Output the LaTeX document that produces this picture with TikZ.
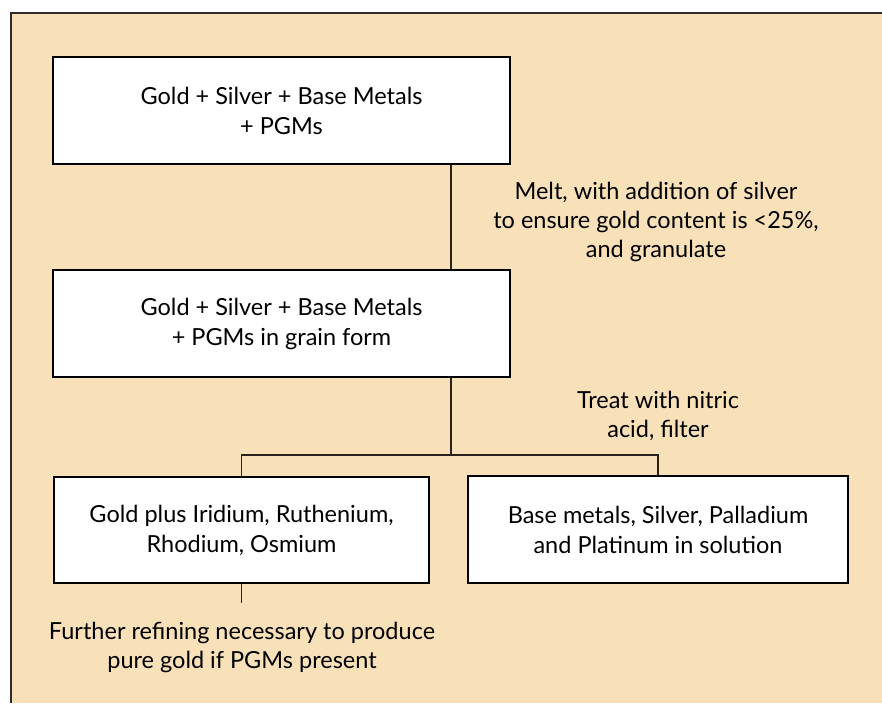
\documentclass[tikz,border=0pt]{standalone}
\usepackage{fontspec}
\setmainfont{Lato}
\begin{document}
\begin{tikzpicture}[x=1pt,y=-1pt,
  panel/.style={fill=beige},
  stage/.style={draw=black, fill=white, line width=2.4pt, rectangle, inner sep=0pt,
                align=center, font=\fontsize{23.5}{30}\selectfont},
  wire/.style={draw=linegray, line width=1.1pt},
  txt/.style={align=center, inner sep=0pt, font=\fontsize{23.5}{29}\selectfont, text=black}]
  \definecolor{beige}{RGB}{248,225,184}
  \definecolor{linegray}{RGB}{40,34,30}
  \definecolor{framegray}{RGB}{45,45,45}
  \useasboundingbox (0,0) rectangle (882,703);
  % background panel with its top and left frame
  \fill[panel] (11,13) rectangle (882,703);
  \draw[framegray, line width=2pt] (11,703) -- (11,13) -- (882,13);

  % process stages
  \node[stage, minimum width=457pt, minimum height=107pt] (b1) at (281.5,110.5)
    {Gold + Silver + Base Metals\\+ PGMs};
  \node[stage, minimum width=457pt, minimum height=107pt] (b2) at (281.5,323.5)
    {Gold + Silver + Base Metals\\+ PGMs in grain form};
  \node[stage, minimum width=375pt, minimum height=106pt] (b3) at (241.5,530)
    {Gold plus Iridium, Ruthenium,\\Rhodium, Osmium};
  \node[stage, minimum width=380pt, minimum height=107pt] (b4) at (658,529.5)
    {Base metals, Silver, Palladium\\and Platinum in solution};

  % step annotations
  \node[txt] (n1) at (656,222) {Melt, with addition of silver\\to ensure gold content is <25\%,\\and granulate};
  \node[txt] (n2) at (658,416) {Treat with nitric\\acid, filter};
  \node[txt] (n3) at (242,647) {Further refining necessary to produce\\pure gold if PGMs present};

  % connectors
  \coordinate (split) at (451,455);
  \coordinate (tail) at (242,603);
  \draw[wire] (b1.south -| split) -- (b2.north -| split);
  \draw[wire] (b2.south -| split) -- (split);
  \draw[wire] (b3.north) |- (split) -| (b4.north);
  \draw[wire] (b3.south) -- (b3.south |- tail);
\end{tikzpicture}
\end{document}
